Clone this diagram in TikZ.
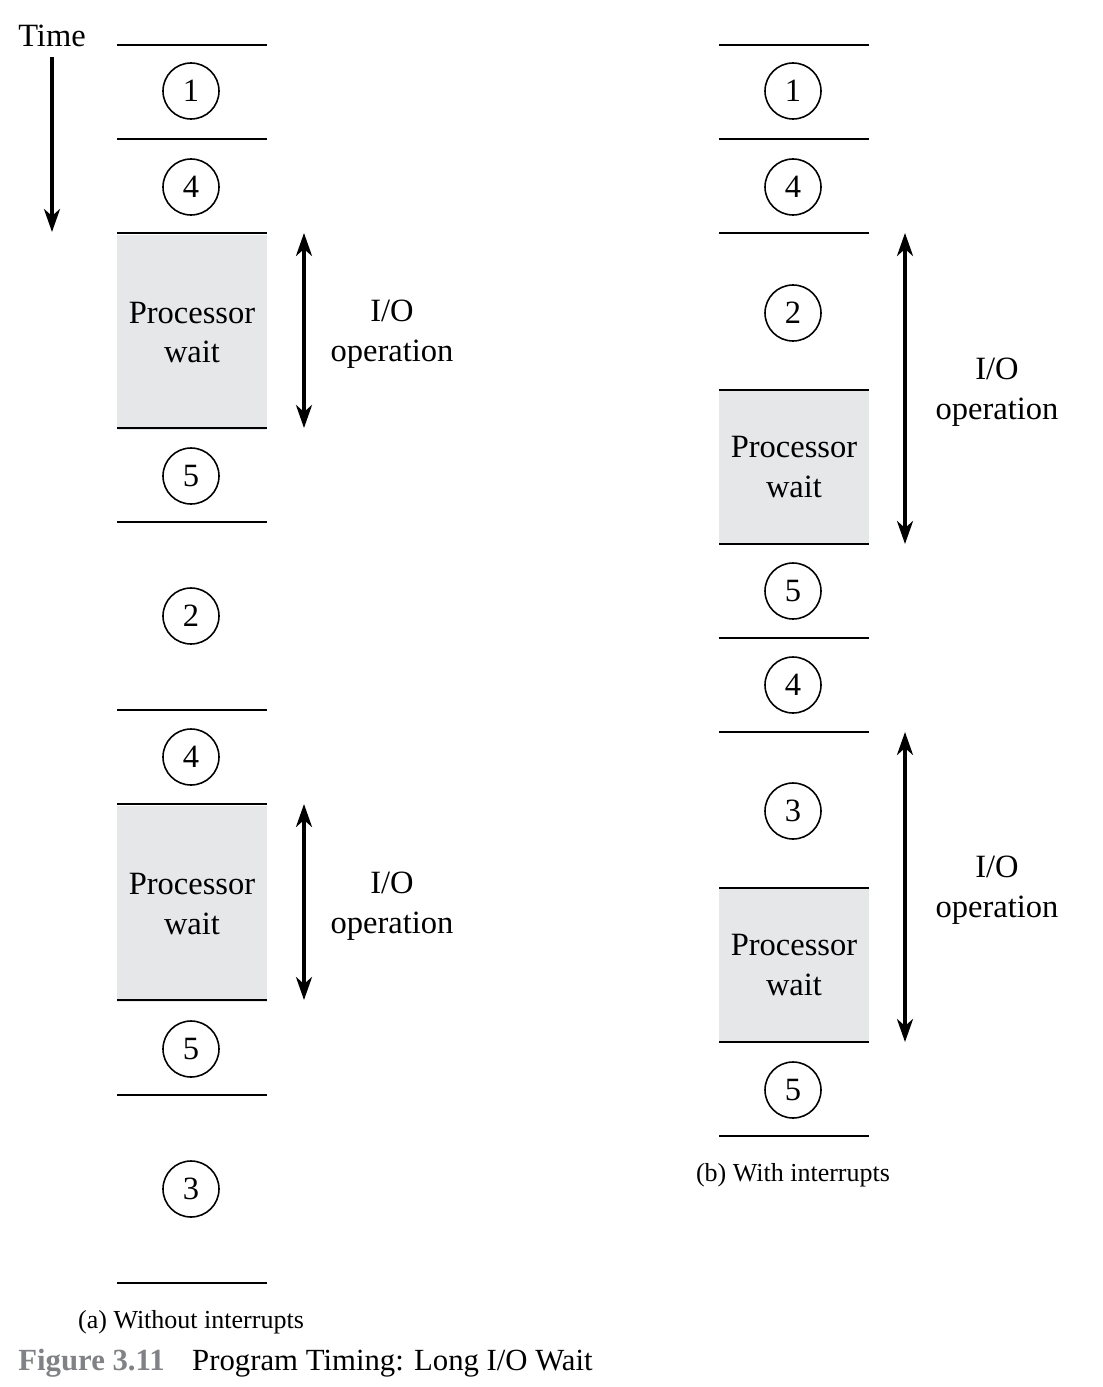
\documentclass[tikz,border=0pt]{standalone}
\usepackage{fontspec}
\setmainfont{Liberation Serif}
\usepackage{xcolor}
\definecolor{waitgray}{RGB}{230,231,232}
\definecolor{figgray}{RGB}{128,130,133}
\usetikzlibrary{arrows.meta}

\begin{document}
\begin{tikzpicture}
	\tikzstyle{stepnum} = [circle,draw=black,line width=0.9pt,minimum size=1.12cm,inner sep=0pt,font=\fontsize{18.5}{22}\selectfont]
	\tikzstyle{waitbox} = [rectangle,fill=waitgray,minimum width=3cm,inner sep=0pt,align=center,font=\fontsize{18.5}{22.7}\selectfont]
	\tikzstyle{label} = [align=center,font=\fontsize{18.5}{22.7}\selectfont]
	\tikzstyle{sep} = [line width=0.9pt]
	\tikzstyle{ioarrow} = [{Stealth[length=4.6mm,width=3.2mm,inset=1.4mm]}-{Stealth[length=4.6mm,width=3.2mm,inset=1.4mm]},line width=2pt]
	\useasboundingbox (0,0) rectangle (22.06,-27.74);

	% time axis
	\node[label] (time) at (1.04,-0.72) {Time};
	\coordinate (t1) at (1.04,-1.14);
	\coordinate (t2) at (1.04,-4.64);
	\draw[-{Stealth[length=4.6mm,width=3.2mm,inset=1.4mm]},line width=2pt] (t1)--(t2);

	% (a) without interrupts
	\node[waitbox,minimum height=3.9cm] (aw1) at (3.84,-6.65) {Processor\\wait};
	\node[waitbox,minimum height=3.92cm] (aw2) at (3.84,-18.08) {Processor\\wait};
	\foreach \y in {-0.9,-2.78,-4.66,-8.56,-10.44,-14.2,-16.08,-20.0,-21.9,-25.66}
		\draw[sep] (2.34,\y)--(5.34,\y);
	\node[stepnum] (a1) at (3.82,-1.82) {1};
	\node[stepnum] (a4) at (3.82,-3.74) {4};
	\node[stepnum] (a5) at (3.82,-9.52) {5};
	\node[stepnum] (a2) at (3.82,-12.32) {2};
	\node[stepnum] (a4b) at (3.82,-15.14) {4};
	\node[stepnum] (a5b) at (3.82,-20.98) {5};
	\node[stepnum] (a3) at (3.82,-23.78) {3};
	\coordinate (ai1t) at (6.08,-4.66);
	\coordinate (ai1b) at (6.08,-8.56);
	\coordinate (ai2t) at (6.08,-16.08);
	\coordinate (ai2b) at (6.08,-20.0);
	\draw[ioarrow] (ai1t)--(ai1b);
	\draw[ioarrow] (ai2t)--(ai2b);
	\node[label] (aio1) at (7.84,-6.68) {I/O\\operation};
	\node[label] (aio2) at (7.84,-18.12) {I/O\\operation};
	\node[font=\fontsize{14.8}{17}\selectfont] (acap) at (3.82,-26.45) {(a) Without interrupts};

	% (b) with interrupts
	\node[waitbox,minimum height=3.08cm] (bw1) at (15.88,-9.34) {Processor\\wait};
	\node[waitbox,minimum height=3.08cm] (bw2) at (15.88,-19.3) {Processor\\wait};
	\foreach \y in {-0.9,-2.78,-4.66,-7.8,-10.88,-12.76,-14.64,-17.76,-20.84,-22.72}
		\draw[sep] (14.38,\y)--(17.38,\y);
	\node[stepnum] (b1) at (15.86,-1.82) {1};
	\node[stepnum] (b4) at (15.86,-3.74) {4};
	\node[stepnum] (b2) at (15.86,-6.26) {2};
	\node[stepnum] (b5) at (15.86,-11.82) {5};
	\node[stepnum] (b4b) at (15.86,-13.7) {4};
	\node[stepnum] (b3) at (15.86,-16.22) {3};
	\node[stepnum] (b5b) at (15.86,-21.8) {5};
	\coordinate (bi1t) at (18.1,-4.66);
	\coordinate (bi1b) at (18.1,-10.88);
	\coordinate (bi2t) at (18.1,-14.64);
	\coordinate (bi2b) at (18.1,-20.84);
	\draw[ioarrow] (bi1t)--(bi1b);
	\draw[ioarrow] (bi2t)--(bi2b);
	\node[label] (bio1) at (19.94,-7.84) {I/O\\operation};
	\node[label] (bio2) at (19.94,-17.81) {I/O\\operation};
	\node[font=\fontsize{14.8}{17}\selectfont] (bcap) at (15.86,-23.51) {(b) With interrupts};

	% caption
	\node[anchor=west,inner sep=0pt,font=\fontsize{17.5}{20}\selectfont] (fig) at (0.36,-27.26) {\textcolor{figgray}{\textbf{Figure 3.11}}\hspace{0.55cm}Program Timing: Long I/O Wait};
\end{tikzpicture}
\end{document}
